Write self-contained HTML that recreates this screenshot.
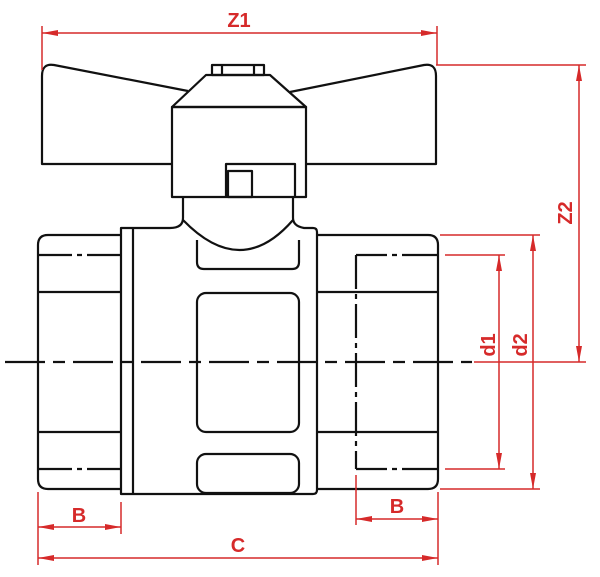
<!DOCTYPE html>
<html><head><meta charset="utf-8"><style>
html,body{margin:0;padding:0;background:#fff;width:600px;height:577px;overflow:hidden}
svg{display:block}
text{font-family:"Liberation Sans",sans-serif;font-weight:bold;font-size:20px;fill:#d62a2a}
</style></head><body>
<svg width="600" height="577" viewBox="0 0 600 577" xmlns="http://www.w3.org/2000/svg">
<defs>
<marker id="a" viewBox="0 0 16 6" refX="16" refY="3" markerWidth="16" markerHeight="6" markerUnits="userSpaceOnUse" orient="auto-start-reverse"><path d="M0,0 L16,3 L0,6 Z" fill="#d62a2a"/></marker>
</defs>
<g fill="none" stroke="#111" stroke-width="2.2" stroke-linejoin="round">
<path d="M188,91 L54,65 Q42,63 42,76 L42,164 H172"/>
<path d="M290,92 L424,65 Q436,63 436,76 L436,164 H306"/>
<rect x="212" y="65" width="52" height="10"/>
<line x1="222" y1="65" x2="222" y2="75"/><line x1="254" y1="65" x2="254" y2="75"/>
<path d="M206,75 H270 L306,107 H172 Z"/>
<rect x="172" y="107" width="134" height="90"/>
<path d="M226,197 V164 H295 V197"/>
<rect x="228" y="171" width="24" height="26"/>
<path d="M183,197 V218 Q183,228 170,228 H121 V494 H313 Q317,494 317,490 V232 Q317,228 313,228 H304 Q293,226 293,218 V197"/>
<line x1="133" y1="228" x2="133" y2="494"/>
<path d="M183,220 Q241,280 293,220"/>
<path d="M197,240 V262 Q197,269 204,269 H292 Q299,269 299,262 V240"/>
<rect x="197" y="293" width="102" height="139" rx="9"/>
<rect x="197" y="454" width="102" height="39" rx="9"/>
<path d="M121,235 H48 Q38,235 38,245 V479 Q38,489 48,489 H121"/>
<line x1="38" y1="292" x2="121" y2="292"/><line x1="38" y1="432" x2="121" y2="432"/>
<path d="M38,255 H72 M77,255 H82 M87,255 H121" />
<path d="M38,469 H72 M77,469 H82 M87,469 H121" />
<path d="M317,235 H428 Q438,235 438,245 V479 Q438,489 428,489 H317"/>
<line x1="317" y1="292" x2="438" y2="292"/><line x1="317" y1="432" x2="438" y2="432"/>
<path d="M356,255 H387 M392,255 H397 M402,255 H438"/>
<path d="M356,469 H387 M392,469 H397 M402,469 H438"/>
<path d="M356,255 V469" stroke-dasharray="34 5 5 5"/>
<path d="M5,362 H472" stroke-dasharray="40 8 12 8"/>
</g>
<g fill="none" stroke="#d62a2a" stroke-width="1.5">
<line x1="42" y1="26" x2="42" y2="70"/><line x1="437" y1="26" x2="437" y2="65"/>
<line x1="42" y1="33" x2="437" y2="33" marker-start="url(#a)" marker-end="url(#a)"/>
<line x1="436" y1="65" x2="586" y2="65"/><line x1="474" y1="362" x2="586" y2="362"/>
<line x1="579" y1="65" x2="579" y2="362" marker-start="url(#a)" marker-end="url(#a)"/>
<line x1="440" y1="235" x2="540" y2="235"/><line x1="440" y1="489" x2="540" y2="489"/>
<line x1="533" y1="235" x2="533" y2="489" marker-start="url(#a)" marker-end="url(#a)"/>
<line x1="445" y1="255" x2="505" y2="255"/><line x1="445" y1="469" x2="505" y2="469"/>
<line x1="499" y1="255" x2="499" y2="469" marker-start="url(#a)" marker-end="url(#a)"/>
<line x1="38" y1="492" x2="38" y2="565"/><line x1="121" y1="502" x2="121" y2="534"/>
<line x1="38" y1="527" x2="121" y2="527" marker-start="url(#a)" marker-end="url(#a)"/>
<line x1="356" y1="475" x2="356" y2="525"/><line x1="438" y1="492" x2="438" y2="565"/>
<line x1="356" y1="519" x2="438" y2="519" marker-start="url(#a)" marker-end="url(#a)"/>
<line x1="38" y1="558" x2="438" y2="558" marker-start="url(#a)" marker-end="url(#a)"/>
</g>
<text x="239" y="27" text-anchor="middle">Z1</text>
<text x="79" y="522" text-anchor="middle">B</text>
<text x="397" y="513" text-anchor="middle">B</text>
<text x="238" y="552" text-anchor="middle">C</text>
<text transform="translate(572,213) rotate(-90)" text-anchor="middle">Z2</text>
<text transform="translate(495,345) rotate(-90)" text-anchor="middle">d1</text>
<text transform="translate(527,345) rotate(-90)" text-anchor="middle">d2</text>
</svg>
</body></html>
